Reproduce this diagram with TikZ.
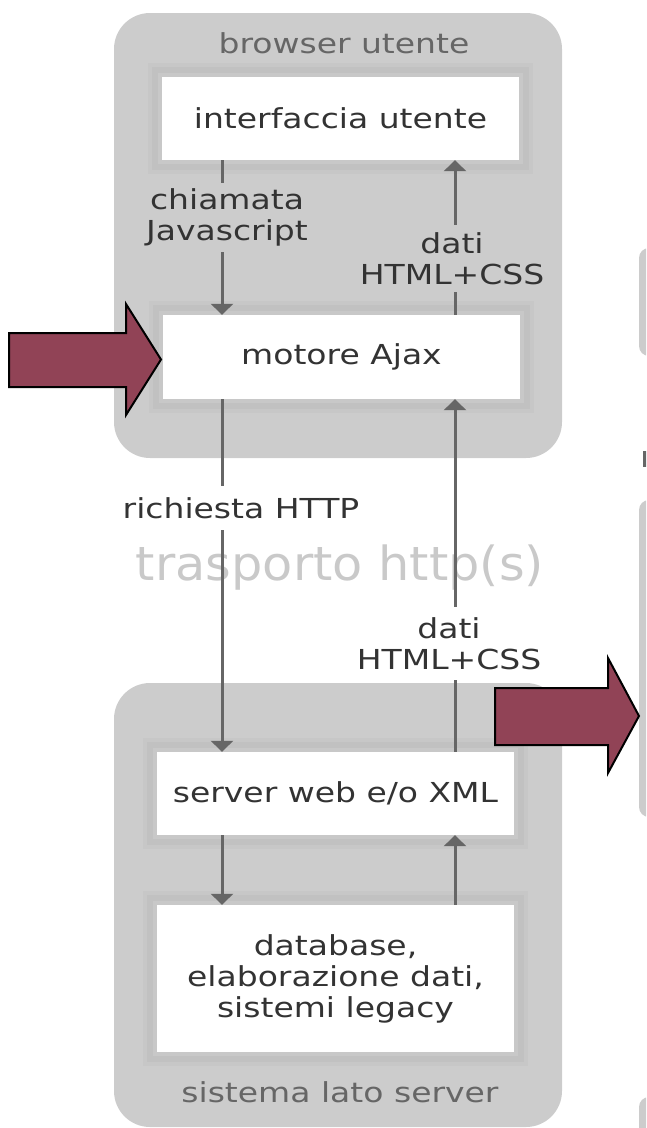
\documentclass[tikz,border=0pt]{standalone}
\usepackage{fontspec}
\setmainfont{DejaVu Sans}
\newfontfamily\pxfont[FakeStretch=1.2]{DejaVu Sans}
\newfontfamily\bigfont[FakeStretch=1.05]{DejaVu Sans}
\usetikzlibrary{arrows.meta}
\definecolor{boxgray}{HTML}{CCCCCC}
\definecolor{frameA}{HTML}{C7C7C7}
\definecolor{frameB}{HTML}{C1C1C1}
\definecolor{frameC}{HTML}{C8C8C8}
\definecolor{txtdark}{HTML}{333333}
\definecolor{txtgray}{HTML}{666666}
\definecolor{linegray}{HTML}{666666}
\definecolor{redfill}{HTML}{914356}
\definecolor{trasgray}{HTML}{C9C9C9}
\begin{document}
\begin{tikzpicture}[x=1pt,y=-1pt,
  px/.style={font=\pxfont\fontsize{27.5pt}{31pt}\selectfont},
  group/.style={fill=boxgray, rounded corners=36pt, minimum width=448pt, inner sep=0pt},
  compbox/.style={px, text=txtdark, fill=white, inner sep=0pt, minimum width=357pt, align=center,
    preaction={draw=frameA, line width=28pt},
    preaction={draw=frameB, line width=20pt},
    preaction={draw=frameC, line width=8pt}},
  lbl/.style={px, text=txtdark, align=center, inner sep=0pt},
  grouplbl/.style={px, text=txtgray, inner sep=0pt},
  bigtext/.style={font=\bigfont\fontsize{47pt}{50pt}\selectfont, text=trasgray, inner sep=0pt},
  conn/.style={draw=linegray, line width=3pt},
  endtip/.style={-{Triangle[width=22pt,length=11pt]}},
  pointer/.style={fill=redfill, draw=black, line width=2pt, line join=miter},
  sidebox/.style={fill=boxgray, rounded corners=10pt}]
\useasboundingbox (0,0) rectangle (646,1128);
\clip (0,0) rectangle (646,1128);
% side elements at right edge
\fill[sidebox] (639,248) rectangle (670,356);
\fill[sidebox] (639,500) rectangle (670,817);
\fill[sidebox] (639,1097) rectangle (670,1160);
\fill[txtgray] (643,451) rectangle (650,467);
% groups
\node[group, minimum height=445pt] (browser) at (338,235.5) {};
\node[group, minimum height=444pt] (serverside) at (338,905) {};
\node[grouplbl] (blbl) at (344,43) {browser utente};
\node[grouplbl] (slbl) at (340,1092) {sistema lato server};
\node[bigtext, anchor=base] (trasp) at (340,580) {trasporto http(s)};
% components
\node[compbox, minimum height=83pt] (ui) at (340.5,118.5) {interfaccia utente};
\node[compbox, minimum height=84pt] (ajax) at (341.5,357) {motore Ajax};
\node[compbox, minimum height=83pt] (srv) at (335.5,793.5) {server web e/o XML};
\node[compbox, minimum height=147pt] (db) at (335.5,978.5) {database,\\elaborazione dati,\\sistemi legacy};
% labels
\node[lbl, minimum height=69pt] (js) at (227,217.5) {chiamata\\Javascript};
\node[lbl, minimum height=67pt] (html1) at (452,258.5) {dati\\HTML+CSS};
\node[lbl, minimum height=44pt] (req) at (241,508) {richiesta HTTP};
\node[lbl, minimum height=73pt] (html2) at (449,643.5) {dati\\HTML+CSS};
\coordinate (cL) at (222,0);
\coordinate (cR) at (455,0);
% connectors
\draw[conn] (ui.south -| cL) -- (js.north -| cL);
\draw[conn, endtip] (js.south -| cL) -- (ajax.north -| cL);
\draw[conn] (ajax.south -| cL) -- (req.north -| cL);
\draw[conn, endtip] (req.south -| cL) -- (srv.north -| cL);
\draw[conn, endtip] (srv.south -| cL) -- (db.north -| cL);
\draw[conn] (ajax.north -| cR) -- (html1.south -| cR);
\draw[conn, endtip] (html1.north -| cR) -- (ui.south -| cR);
\draw[conn] (srv.north -| cR) -- (html2.south -| cR);
\draw[conn, endtip] (html2.north -| cR) -- (ajax.south -| cR);
\draw[conn, endtip] (db.north -| cR) -- (srv.south -| cR);
% red pointers
\draw[pointer] (9,333) -- (126,333) -- (126,304) -- (161,359.5) -- (126,415) -- (126,387) -- (9,387) -- cycle;
\draw[pointer] (495,688) -- (608,688) -- (608,658) -- (639,716) -- (608,773) -- (608,745) -- (495,745) -- cycle;
\end{tikzpicture}
\end{document}
